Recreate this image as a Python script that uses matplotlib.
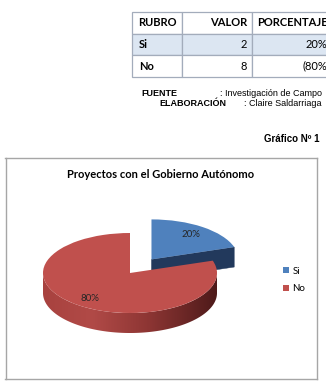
import numpy as np
import matplotlib
matplotlib.use("Agg")
import matplotlib.pyplot as plt
from matplotlib.patches import Polygon
from matplotlib.colors import LinearSegmentedColormap

# ---------------- data ----------------
col_labels = ["RUBRO", "VALOR", "PORCENTAJE"]
rubro = ["Si", "No"]
valor = [2, 8]
porcentaje = ["20%", "(80%"]
chart_title = "Proyectos con el Gobierno Autónomo"
fuente = "Investigación de Campo"
elaboracion = "Claire Saldarriaga"
grafico_label = "Gráfico Nº 1"

W, H = 326, 390
fig = plt.figure(figsize=(W / 100, H / 100), dpi=100)
fig.patch.set_facecolor("white")


def fx(x):
    return x / W


def fy(y):
    return 1 - y / H


# ---------------- table ----------------
cw = [50, 70, 84]
tax = fig.add_axes([fx(132), fy(77), sum(cw) / W, 65 / H])
tax.axis("off")
cell_text = [[r, str(v), p] for r, v, p in zip(rubro, valor, porcentaje)]
tbl = tax.table(cellText=cell_text, colLabels=col_labels,
                colWidths=[c / sum(cw) for c in cw], bbox=[0, 0, 1, 1],
                cellLoc="right", colLoc="right")
tbl.auto_set_font_size(False)
tbl.set_fontsize(8)
pads = [0.14, 0.07, 0.1]
for (r, c), cell in tbl.get_celld().items():
    cell.set_edgecolor("#a3acbb")
    cell.set_linewidth(0.9)
    cell.PAD = pads[c]
    t = cell.get_text()
    t.set_fontfamily("Lato")
    t.set_color("black")
    if r == 0:
        t.set_fontweight("bold")
        if c == 0:
            cell._loc = "center"
            t.set_horizontalalignment("center")
    if c == 0 and r > 0:
        t.set_fontweight("bold")
        cell._loc = "left"
        t.set_horizontalalignment("left")
    if r == 1:
        cell.set_facecolor("#dce6f2")
    else:
        cell.set_facecolor("white")

# ---------------- source texts ----------------
fs_src = 6.5
fig.text(fx(141), fy(93), "FUENTE", fontsize=fs_src, fontweight="bold",
         family="Liberation Sans", va="center", ha="left")
fig.text(fx(322), fy(93), ": " + fuente, fontsize=fs_src,
         family="Liberation Sans", va="center", ha="right")
fig.text(fx(159), fy(103), "ELABORACIÓN", fontsize=fs_src, fontweight="bold",
         family="Liberation Sans", va="center", ha="left")
fig.text(fx(322), fy(103), ": " + elaboracion, fontsize=fs_src,
         family="Liberation Sans", va="center", ha="right")
fig.text(fx(319), fy(139), grafico_label, fontsize=7, fontweight="bold",
         family="Liberation Sans", va="center", ha="right")

# ---------------- chart box / pie ----------------
bx0, bx1, by0, by1 = 5.5, 316.5, 158, 379
ax = fig.add_axes([fx(bx0), fy(by1), (bx1 - bx0) / W, (by1 - by0) / H])

top_colors = ["#4f81bd", "#c0504d"]
wedges, texts, autotexts = ax.pie(
    valor, explode=[0.42, 0], startangle=90, counterclock=False,
    colors=top_colors, autopct="%1.0f%%", pctdistance=0.78,
    wedgeprops=dict(linewidth=0), textprops=dict(fontsize=7, family="Lato",
                                                 color="#262626"))
rx_px, ry_px, depth_px = 87.0, 40.0, 20.0
cx_px, cy_px = 130.0, 273.0
wpx = bx1 - bx0
hpx = by1 - by0
left_u = (cx_px - bx0) / rx_px
xlim = (-left_u, -left_u + wpx / rx_px)
bot_u = (by1 - cy_px) / ry_px
ylim = (-bot_u, -bot_u + hpx / ry_px)

depth = depth_px / ry_px
side_cmaps = [
    LinearSegmentedColormap.from_list("b", ["#3a5f8f", "#2b4a73", "#1c3354"]),
    LinearSegmentedColormap.from_list("r", [(0, "#a8423f"), (0.28, "#b14a47"),
                                            (0.6, "#8e3634"), (1, "#4e1a1a")]),
]
radial_colors = ["#22395c", "#7a2c2a"]

for i, w in enumerate(wedges):
    cx, cy = w.center
    r = w.r
    t1, t2 = w.theta1, w.theta2
    # outer curved wall (front-facing part), shaded with a gradient
    lo = max(t1, -180.0)
    hi = min(t2, 0.0)
    if hi > lo:
        angs = np.radians(np.linspace(lo, hi, 200))
        xs = cx + r * np.cos(angs)
        ys = cy + r * np.sin(angs)
        pts = np.concatenate([np.column_stack([xs, ys]),
                              np.column_stack([xs[::-1], ys[::-1] - depth])])
        wall = Polygon(pts, closed=True, facecolor="none", edgecolor="none",
                       zorder=0.5)
        ax.add_patch(wall)
        grad = np.linspace(0, 1, 256).reshape(1, -1)
        im = ax.imshow(grad, extent=[xs.min(), xs.max(),
                                     ys.min() - depth, ys.max()],
                       aspect="auto", cmap=side_cmaps[i], zorder=0.5,
                       interpolation="bilinear")
        im.set_clip_path(wall)
    # radial cut faces
    for te, nrm in ((t1, t1 - 90.0), (t2, t2 + 90.0)):
        if np.sin(np.radians(nrm)) < -1e-6:
            ex = cx + r * np.cos(np.radians(te))
            ey = cy + r * np.sin(np.radians(te))
            poly = [(cx, cy), (ex, ey), (ex, ey - depth), (cx, cy - depth)]
            ax.add_patch(Polygon(poly, closed=True, facecolor=radial_colors[i],
                                 edgecolor=radial_colors[i], lw=0.3,
                                 zorder=0.5))

ax.set_aspect("auto")
ax.set_xlim(*xlim)
ax.set_ylim(*ylim)
ax.set_frame_on(True)
for s in ax.spines.values():
    s.set_edgecolor("#a6a6a6")
    s.set_linewidth(1.0)
ax.set_xticks([])
ax.set_yticks([])

ax.text(0.5, (by1 - 174) / hpx, chart_title, transform=ax.transAxes,
        ha="center", va="center", fontsize=8, fontweight="bold",
        family="Lato", color="black")

leg = ax.legend(wedges, rubro, loc="center left",
                bbox_to_anchor=(fx(283), fy(280)),
                bbox_transform=fig.transFigure, frameon=False,
                prop=dict(family="Lato", size=7), handlelength=0.6,
                handleheight=0.6, handletextpad=0.35, labelspacing=0.9,
                borderpad=0, borderaxespad=0)

fig.savefig("out.png", dpi=100, facecolor="white")
